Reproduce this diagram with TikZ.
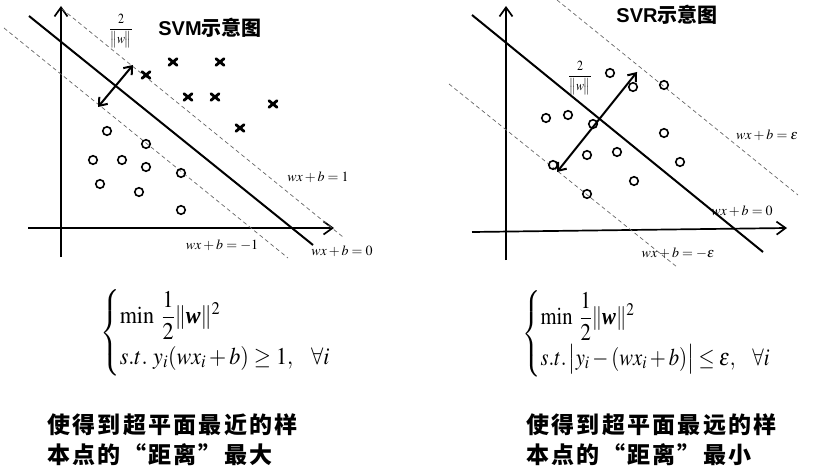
\documentclass[tikz,border=0pt]{standalone}
\usepackage{amsmath}
\usepackage{graphicx}
\usepackage{mathptmx}
\usepackage{fontspec}
\setmainfont{Liberation Serif}
\setsansfont{Liberation Sans}
\newfontfamily\cjk{Noto Sans CJK SC}
\newfontfamily\cjksp{Noto Sans CJK SC}[LetterSpace=10]
\usetikzlibrary{arrows.meta}
\newcommand{\bw}{\mbox{\bfseries\itshape w}}
\tikzset{
  axisline/.style={line width=1.7pt,-{Straight Barb[length=9pt,width=13pt,line width=1.7pt]}},
  sepline/.style={line width=2pt},
  dashline/.style={gray!80!black,line width=0.7pt,dash pattern=on 4pt off 3pt},
  dbl/.style={line width=2pt,{Straight Barb[length=7pt,width=11pt,line width=2pt]}-{Straight Barb[length=7pt,width=11pt,line width=2pt]}},
  circ/.style={circle,draw,line width=1.6pt,minimum size=8.5pt,inner sep=0pt},
  crs/.style={minimum size=14pt,inner sep=0pt,
    path picture={\draw[line width=2.8pt,line cap=round]
      ([shift={(-4,-3.3)}]path picture bounding box.center) -- ([shift={(4,3.3)}]path picture bounding box.center)
      ([shift={(4,-3.3)}]path picture bounding box.center) -- ([shift={(-4,3.3)}]path picture bounding box.center);}},
  eqlabel/.style={font=\fontsize{14}{16}\selectfont,inner sep=0pt},
  frac/.style={font=\fontsize{14}{16}\selectfont,inner sep=0pt},
  ttl/.style={font=\fontsize{20}{24}\selectfont\bfseries,inner sep=0pt},
  formula/.style={font=\fontsize{24}{29}\selectfont,inner sep=0pt,anchor=west},
  cnote/.style={font=\fontsize{23}{30}\selectfont\cjksp\bfseries,inner sep=0pt,anchor=west,align=left},
}
\begin{document}
\begin{tikzpicture}[x=1pt,y=-1pt]
\useasboundingbox (0,0) rectangle (821,470);
% ---------- Left: SVM ----------
\coordinate (Lyb) at (61,257); \coordinate (Lyt) at (61,6);
\coordinate (Lxl) at (28,228); \coordinate (Lxr) at (334,228);
\draw[axisline] (Lyb) -- (Lyt);
\draw[axisline] (Lxl) -- (Lxr);
\coordinate (Ls1) at (29,16); \coordinate (Ls2) at (313,245);
\draw[sepline] (Ls1) -- (Ls2);
\coordinate (Lu1) at (62,9); \coordinate (Lu2) at (343,237);
\draw[dashline] (Lu1) -- (Lu2);
\coordinate (Ll1) at (4,28); \coordinate (Ll2) at (288,258);
\draw[dashline] (Ll1) -- (Ll2);
\coordinate (La1) at (98,107); \coordinate (La2) at (133,65);
\draw[dbl] (La1) -- (La2);
\node[frac] (Lfrac) at (121,31) {\scalebox{0.85}[1]{$\dfrac{2}{\bigl\|w\bigr\|}$}};
\node[ttl] (Ltitle) at (210,28) {{\sffamily SVM}{\cjk 示意图}};
\foreach \n/\p in {1/{146,75},2/{173,62},3/{220,62},4/{188,97},5/{215,97},6/{273,104},7/{240,128}}
  \node[crs] (Lx\n) at (\p) {};
\foreach \n/\p in {1/{107,131},2/{146,144},3/{93,160},4/{122,160},5/{146,167},6/{181,173},7/{100,184},8/{139,192},9/{181,210}}
  \node[circ] (Lo\n) at (\p) {};
\node[eqlabel] (Leq1) at (318,177) {$wx+b=1$};
\node[eqlabel] (Leqm) at (222,245) {$wx+b=-1$};
\node[eqlabel] (Leq0) at (342,251) {$wx+b=0$};
\node[formula] (Lform) at (100,333) {\scalebox{0.92}[1]{$\begin{cases}\min\;\dfrac{1}{2}\|\bw\|^2\\[2pt] s.t.\ y_i(wx_i+b)\geq 1,\hspace{0.7em} \forall i\end{cases}$}};
\node[cnote] (Lnote) at (47,440) {使得到超平面最近的样\\本点的“距离”最大};
% ---------- Right: SVR ----------
\coordinate (Ryb) at (506,260); \coordinate (Ryt) at (506,6);
\coordinate (Rxl) at (472,232); \coordinate (Rxr) at (787,228);
\draw[axisline] (Ryb) -- (Ryt);
\draw[axisline] (Rxl) -- (Rxr);
\coordinate (Rs1) at (472,15); \coordinate (Rs2) at (763,252);
\draw[sepline] (Rs1) -- (Rs2);
\coordinate (Ru1) at (557,0); \coordinate (Ru2) at (798,195);
\draw[dashline] (Ru1) -- (Ru2);
\coordinate (Rl1) at (449,84); \coordinate (Rl2) at (677,267);
\draw[dashline] (Rl1) -- (Rl2);
\coordinate (Ra1) at (557,172); \coordinate (Ra2) at (637,72);
\draw[dbl] (Ra1) -- (Ra2);
\node[frac] (Rfrac) at (580,78) {\scalebox{0.85}[1]{$\dfrac{2}{\bigl\|w\bigr\|}$}};
\node[ttl] (Rtitle) at (667,15) {{\sffamily SVR}{\cjk 示意图}};
\foreach \n/\p in {1/{610,73},2/{633,87},3/{664,85},4/{546,118},5/{568,115},6/{593,124},7/{664,133},8/{587,155},9/{617,152},10/{680,162},11/{553,165},12/{634,181},13/{587,194}}
  \node[circ] (Ro\n) at (\p) {};
\node[eqlabel] (Reqe) at (767,135) {$wx+b=\varepsilon$};
\node[eqlabel] (Req0) at (742,211) {$wx+b=0$};
\node[eqlabel] (Reqm) at (678,253) {$wx+b=-\varepsilon$};
\node[formula] (Rform) at (522,334) {\scalebox{0.86}[1]{$\begin{cases}\min\;\dfrac{1}{2}\|\bw\|^2\\[2pt] s.t.\,\bigl|y_i-(wx_i+b)\bigr|\leq\varepsilon,\hspace{0.7em} \forall i\end{cases}$}};
\node[cnote] (Rnote) at (526,440) {使得到超平面最远的样\\本点的“距离”最小};
\end{tikzpicture}
\end{document}
